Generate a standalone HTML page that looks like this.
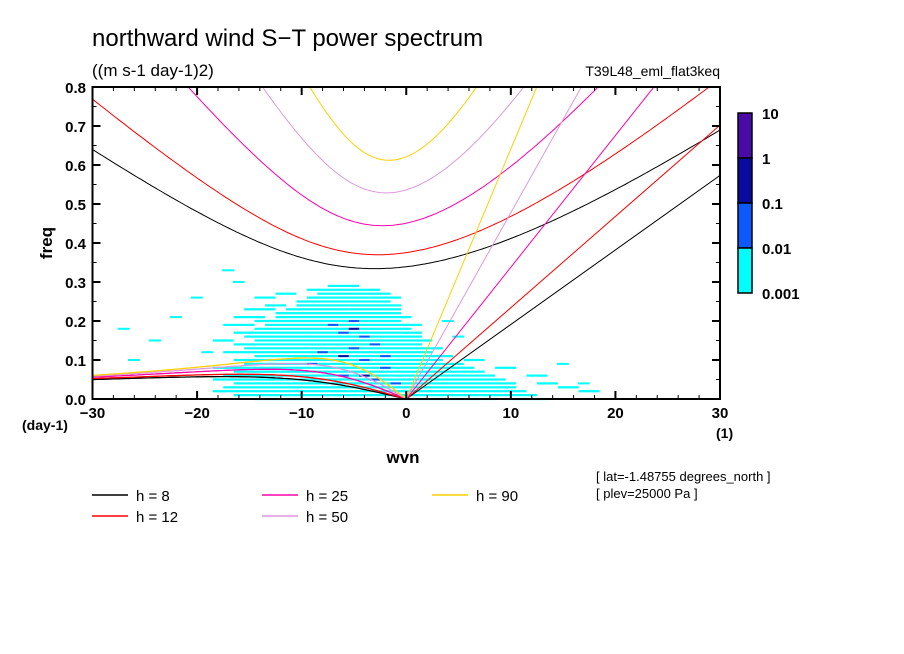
<!DOCTYPE html>
<html><head><meta charset="utf-8"><style>
html,body{margin:0;padding:0;background:#fff}
svg{display:block;font-family:"Liberation Sans",sans-serif}
</style></head><body>
<svg id="chart" width="904" height="654" viewBox="0 0 904 654">
<g id="heat"></g>
<g id="curves"></g>
<g id="axes"></g>
<text x="92" y="46" font-size="24">northward wind S−T power spectrum</text>
<text x="92" y="76" font-size="17">((m s-1 day-1)2)</text>
<text x="720" y="76" font-size="14" text-anchor="end">T39L48_eml_flat3keq</text>
<text x="52" y="243" font-size="17" font-weight="bold" text-anchor="middle" transform="rotate(-90 52 243)">freq</text>
<text x="22" y="430" font-size="14" font-weight="bold">(day-1)</text>
<text x="403" y="463" font-size="17" font-weight="bold" text-anchor="middle">wvn</text>
<text x="716" y="438" font-size="14" font-weight="bold">(1)</text>
<text x="596" y="481" font-size="13">[ lat=-1.48755 degrees_north ]</text>
<text x="596" y="498" font-size="13">[ plev=25000 Pa ]</text>
<g id="legend"></g>
<g id="cbar"></g>
</svg>
<script>
const depths = [8, 12, 25, 50, 90];
const depthColors = ["#000000", "#ff0000", "#ff00aa", "#dd99dd", "#ffd000"];
const xTicks = [-30, -20, -10, 0, 10, 20, 30];
const yTicks = [0.0, 0.1, 0.2, 0.3, 0.4, 0.5, 0.6, 0.7, 0.8];
const yTickLabels = ["0.0", "0.1", "0.2", "0.3", "0.4", "0.5", "0.6", "0.7", "0.8"];
const cbarLabels = ["10", "1", "0.1", "0.01", "0.001"];
const cbarColors = ["#4a0aa8", "#0a0aa0", "#0a5aff", "#00ffff"];
const heatFreqs = [0.29,0.28,0.27,0.26,0.25,0.24,0.23,0.22,0.21,0.20,0.19,0.18,0.17,0.16,0.15,0.14,0.13,0.12,0.11,0.10,0.09,0.08,0.07,0.06,0.05,0.04,0.03,0.02,0.01,0.00];
const heatRanges = [
 [[-7,-5]],[[-9,-6],[-5,-3]],[[-12,-11],[-8,-2]],[[-14,-13],[-9,-4],[-3,-1]],[[-10,-2]],
 [[-13,-12],[-10,-1]],[[-15,-13],[-11,-6],[-5,-1]],[[-12,-1]],[[-16,-14],[-12,-4],[-3,0]],[[-14,-1]],
 [[-17,-15],[-13,-7],[-6,1]],[[-14,0]],[[-16,-9],[-8,1]],[[-15,1]],[[-18,-17],[-14,-5],[-4,2]],
 [[-16,1]],[[-15,-3],[-2,3]],[[-17,2]],[[-14,-6],[-5,4]],[[-16,3],[6,7]],
 [[-15,-8],[-7,5]],[[-18,-10],[-9,6],[9,10]],[[-16,7]],[[-17,-2],[-1,8],[12,13]],[[-18,9]],
 [[-16,-4],[-3,10],[13,14]],[[-17,10],[15,16]],[[-18,-6],[-5,11],[17,18]],[[-16,12]],[[-14,8],[10,13]]
];
const blueCells = [[-6,0.17],[-5,0.2],[-3,0.14],[-8,0.12],[-4,0.1],[-2,0.08],[-6,0.06],[-3,0.05],[-1,0.04],[-5,0.13],[-7,0.19],[-4,0.16],[-2,0.11],[-9,0.09]];
const darkCells = [[-5,0.18],[-4,0.06],[-6,0.11]];
const sparseCells = [[-17,0.33],[-22,0.21],[-27,0.18],[-24,0.15],[-20,0.26],[-19,0.12],[-26,0.1],[-16,0.3],[5,0.16],[4,0.2],[15,0.09],[17,0.04]];

const NS="http://www.w3.org/2000/svg";
const X0=92.5, X1=720, Y0=399, YT=87;
const sx = v => X0 + (v+30)/60*(X1-X0);
const sy = v => Y0 - v/0.8*(Y0-YT);
function mk(tag, attrs, parent){const e=document.createElementNS(NS,tag);for(const k in attrs)e.setAttribute(k,attrs[k]);parent.appendChild(e);return e;}

const heat=document.getElementById('heat');
heatFreqs.forEach((f,i)=>{heatRanges[i].forEach(r=>{
  const e=mk('rect',{x:sx(r[0]-0.5),y:sy(f)-1.1,width:sx(r[1]+0.5)-sx(r[0]-0.5),height:2.2,fill:"#00ffff"},heat);
  
  
});});
sparseCells.forEach(c=>{const e=mk('rect',{x:sx(c[0]-0.6),y:sy(c[1])-1,width:12,height:2,fill:"#00ffff"},heat);
  
  });
blueCells.forEach(c=>{const e=mk('rect',{x:sx(c[0]-0.5),y:sy(c[1])-1,width:sx(1)-sx(0),height:2,fill:"#0a5aff"},heat);
  
  });
darkCells.forEach(c=>{const e=mk('rect',{x:sx(c[0]-0.5),y:sy(c[1])-1,width:sx(1)-sx(0),height:2,fill:"#0a0aa0"},heat);
  
  });

const g=9.8,a=6.371e6,beta=2.29e-11,toCpd=86400/(2*Math.PI);
function roots(s,h){const c=Math.sqrt(g*h),k=s/a;const p=-(c*c*k*k+3*beta*c),q=-beta*c*c*k;
  const m=2*Math.sqrt(-p/3);let arg=3*q/(2*p)*Math.sqrt(-3/p);arg=Math.max(-1,Math.min(1,arg));
  const th=Math.acos(arg)/3;const r=[0,1,2].map(j=>m*Math.cos(th-2*Math.PI*j/3)*toCpd);r.sort((A,B)=>B-A);return r;}
const curves=document.getElementById('curves');
const defs=mk('defs',{},curves);const cp=mk('clipPath',{id:'pc'},defs);mk('rect',{x:X0,y:YT,width:X1-X0,height:Y0-YT},cp);
depths.forEach((h,i)=>{
  const col=depthColors[i];let ig=[],ro=[];
  for(let s=-30;s<=30.001;s+=0.25){const r=roots(s,h);ig.push(sx(s).toFixed(1)+','+sy(r[0]).toFixed(1));
    if(s<=0)ro.push(sx(s).toFixed(1)+','+sy(Math.max(0,r[1])).toFixed(1));}
  const c=Math.sqrt(g*h);
  let e=mk('polyline',{points:ig.join(' '),fill:'none',stroke:col,'stroke-width':1,'clip-path':'url(#pc)'},curves);
  
  
  e=mk('polyline',{points:ro.join(' '),fill:'none',stroke:col,'stroke-width':1.3,'clip-path':'url(#pc)'},curves);
  
  
  const kf=s=>c*(s/a)*toCpd;
  e=mk('line',{x1:sx(0),y1:sy(0),x2:sx(30),y2:sy(kf(30)),stroke:col,'stroke-width':1,'clip-path':'url(#pc)'},curves);
  
  
});

const axes=document.getElementById('axes');
let fr=mk('rect',{x:X0,y:YT,width:X1-X0,height:Y0-YT,fill:'none',stroke:'#000','stroke-width':2},axes);


for(let v=-30;v<=30;v+=2){const major=v%10===0;const L=major?8:4;
  mk('line',{x1:sx(v),y1:Y0,x2:sx(v),y2:Y0-L,stroke:'#000','stroke-width':major?2:1},axes);
  mk('line',{x1:sx(v),y1:YT,x2:sx(v),y2:YT+L,stroke:'#000','stroke-width':major?2:1},axes);}
for(let i=0;i<=16;i++){const v=i*0.05;const major=i%2===0;const L=major?8:4;
  mk('line',{x1:X0,y1:sy(v),x2:X0+L,y2:sy(v),stroke:'#000','stroke-width':major?2:1},axes);
  mk('line',{x1:X1,y1:sy(v),x2:X1-L,y2:sy(v),stroke:'#000','stroke-width':major?2:1},axes);}
xTicks.forEach(v=>{const t=mk('text',{x:sx(v),y:418,'font-size':15,'font-weight':'bold','text-anchor':'middle'},axes);t.textContent=(v<0?'−':'')+Math.abs(v);
  
  });
yTicks.forEach((v,i)=>{const t=mk('text',{x:86,y:sy(v)+6,'font-size':15,'font-weight':'bold','text-anchor':'end'},axes);t.textContent=yTickLabels[i];
  
  });

const cb=document.getElementById('cbar');
const cbTop=113,cbH=45;
cbarColors.forEach((c,i)=>{const r=mk('rect',{x:738,y:cbTop+i*cbH,width:14,height:cbH,fill:c,stroke:'#000','stroke-width':1.5},cb);
  
  });
cbarLabels.forEach((l,i)=>{const t=mk('text',{x:762,y:cbTop+i*cbH+6,'font-size':15,'font-weight':'bold'},cb);t.textContent=l;
  
  });

const lg=document.getElementById('legend');
const lpos=[[92,495],[92,516],[262,495],[262,516],[432,495]];
depths.forEach((h,i)=>{const [x,y]=lpos[i];
  const ln=mk('line',{x1:x,y1:y,x2:x+36,y2:y,stroke:depthColors[i],'stroke-width':1.5},lg);
  
  
  const t=mk('text',{x:x+44,y:y+6,'font-size':15,'xml:space':'preserve'},lg);t.textContent='h = '+(h<10?' ':'')+h;
  
  });
</script>
</body></html>
